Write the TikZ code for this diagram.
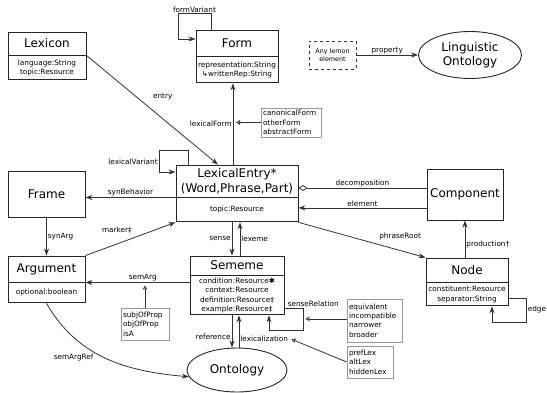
\documentclass[tikz,border=0pt]{standalone}
\usepackage{fontspec}
\setmainfont{DejaVu Sans}
\usetikzlibrary{positioning,arrows.meta,shapes.geometric}

\newcommand\clsfont{\fontsize{12}{14.5}\selectfont}
\newcommand\attrfont{\fontsize{7.3}{9.3}\selectfont}
\newcommand\tinyfont{\fontsize{6.4}{8}\selectfont}

\begin{document}
\begin{tikzpicture}[x=1pt, y=-1pt,
    % Class boxes: name part and attribute part
    cls/.style 2 args={draw=black!85, line width=0.9pt, font=\clsfont, align=center, inner sep=0pt, minimum width=#1, minimum height=#2},
    attrs/.style 2 args={draw=black!85, line width=0.9pt, font=\attrfont, align=center, inner sep=0pt, minimum width=#1, minimum height=#2},
    onto/.style 2 args={ellipse, draw=black!85, line width=0.9pt, font=\clsfont, align=center, inner sep=0pt, minimum width=#1, minimum height=#2},
    note/.style 2 args={draw=black!40, line width=0.5pt, font=\attrfont, align=left, inner sep=2pt, text width=#1, minimum height=#2},
    lbl/.style={font=\attrfont, inner sep=1pt},
    % Connectors
    conn/.style={draw=black!80, line width=0.8pt},
    arr/.style={conn, -{Stealth[length=7pt, width=5pt]}},
    gen/.style={conn, -{Triangle[open, length=4pt, width=4.5pt]}},
    agg/.style={conn, {Diamond[open, length=9pt, width=6pt]}-}
]
\useasboundingbox (0,0) rectangle (547,392);

% Classes
\node[cls={78pt}{23pt}] (lexicon) at (47,43.5) {Lexicon};
\node[attrs={78pt}{24pt}, below=0pt of lexicon] (lexicon-attr) {language:String\\topic:Resource};

\node[cls={82pt}{26pt}] (form) at (237,43) {Form};
\node[attrs={82pt}{26pt}, below=0pt of form] (form-attr) {representation:String\\↳writtenRep:String};

\node[cls={122pt}{32pt}] (lexentry) at (237,181) {LexicalEntry*\\(Word,Phrase,Part)};
\node[attrs={122pt}{24pt}, below=0pt of lexentry] (lexentry-attr) {topic:Resource};

\node[cls={77pt}{46pt}] (frame) at (46.5,194) {Frame};
\node[cls={77pt}{26pt}] (argument) at (46.5,269) {Argument};
\node[attrs={77pt}{20pt}, below=0pt of argument] (argument-attr) {optional:boolean};

\node[cls={94pt}{19pt}] (sememe) at (237,265.5) {Sememe};
\node[attrs={94pt}{39pt}, below=0pt of sememe] (sememe-attr) {condition:Resource✱\\context:Resource\\definition:Resource‡\\example:Resource‡};

\node[cls={76pt}{51pt}] (component) at (465,194.5) {Component};
\node[cls={82pt}{24pt}] (treenode) at (467,270) {Node};
\node[attrs={82pt}{23pt}, below=0pt of treenode] (treenode-attr) {constituent:Resource\\separator:String};

% Any element and the ontologies
\node[draw=black!80, dashed, line width=0.7pt, font=\tinyfont, align=center, inner sep=0pt, minimum width=47pt, minimum height=28pt] (anyelem) at (332.5,55) {Any lemon\\element};
\node[onto={103pt}{47pt}] (lingonto) at (470,55) {Linguistic\\Ontology};
\node[onto={100pt}{44pt}] (ontology) at (237,370) {Ontology};

% Subproperty notes
\node[note={56pt}{29pt}] (formtypes) at (291,122.5) {canonicalForm\\otherForm\\abstractForm};
\node[note={44pt}{32pt}] (argtypes) at (145,324) {subjOfProp\\objOfProp\\isA};
\node[note={51pt}{43pt}] (reltypes) at (374.5,320.5) {equivalent\\incompatible\\narrower\\broader};
\node[note={42pt}{32pt}] (lextypes) at (370,362) {prefLex\\altLex\\hiddenLex};

% Properties
\draw[arr] ([xshift=-26pt]form.north) |- node[lbl, above, pos=.75] {formVariant} ++(-33,-16) |- ([yshift=4pt]form.west);
\draw[arr] (anyelem) -- node[lbl, above] {property} (lingonto);
\draw[arr] (lexicon.south east) -- node[lbl, pos=.58, yshift=22pt] {entry} ([xshift=-19pt]lexentry.north);
\draw[arr] ([xshift=-4pt]lexentry.north) -- node[lbl, left] {lexicalForm} coordinate[pos=.5] (lfmid) ([xshift=-4pt]form-attr.south);
\draw[gen] (formtypes.west) -- ([xshift=3pt]formtypes.west -| lfmid);
\draw[arr] ([xshift=-49pt]lexentry.north) |- ++(-29,-14) |- node[lbl, left, pos=.25] {lexicalVariant} ([yshift=9pt]lexentry.west);
\draw[arr] (lexentry-attr.north west) -- node[lbl, above] {synBehavior} (frame.east |- lexentry-attr.north west);
\draw[arr] (frame) -- node[lbl, right] {synArg} (argument);
\draw[arr] (argument.north east) -- node[lbl, pos=.35, yshift=14pt] {marker‡} (lexentry-attr.south west);
\draw[arr] ([xshift=-5pt]lexentry-attr.south) -- node[lbl, left] {sense} ([xshift=-5pt]sememe.north);
\draw[arr] ([xshift=3pt]sememe.north) -- node[lbl, right] {lexeme} ([xshift=3pt]lexentry-attr.south);
\draw[agg] ([yshift=-7pt]lexentry.east) -- node[lbl, above] {decomposition} ([yshift=-7pt]lexentry.east -| component.west);
\draw[arr] ([yshift=2pt]lexentry-attr.east -| component.west) -- node[lbl, above] {element} ([yshift=2pt]lexentry-attr.east);
\draw[arr] (lexentry-attr.south east) -- node[lbl, pos=.8, yshift=14pt] {phraseRoot} (treenode.north west);
\draw[arr] (component.south |- treenode.north) -- node[lbl, right, pos=.35] {production†} (component.south);
\draw[arr] ([yshift=-3.5pt]treenode-attr.east) -| node[lbl, right, pos=.75] {edge} ++(18,24) -| ([xshift=25pt]treenode-attr.south);

% Semantics
\draw[arr] (sememe-attr.west |- argument-attr.north) -- node[lbl, above, pos=.45] {semArg} coordinate[pos=.44] (samid) (argument-attr.north east);
\draw[gen] (argtypes.north) -- ([yshift=-3pt]argtypes.north |- samid);
\draw[arr] (argument-attr.south) to[out=-60, in=175] node[lbl, pos=.42, below left] {semArgRef} (ontology.188);
\draw[arr] ([xshift=-5pt]sememe-attr.south) -- node[lbl, left, pos=.65] {reference} ([xshift=-5pt]ontology.north);
\draw[arr] ([xshift=2pt]ontology.north) -- node[lbl, right, pos=.26] (lexlbl) {lexicalization} ([xshift=2pt]sememe-attr.south);
\draw[gen] (lextypes.west) -- ([xshift=2pt]lexlbl.east);
\draw[arr] ([yshift=-12.5pt]sememe-attr.east) -| node[lbl, above right, pos=.05] {senseRelation} coordinate[pos=.75] (srmid) ++(19,22) -| ([xshift=32pt]sememe-attr.south);
\draw[gen] (reltypes.west |- srmid) -- ([xshift=2pt]srmid);

\end{tikzpicture}
\end{document}
